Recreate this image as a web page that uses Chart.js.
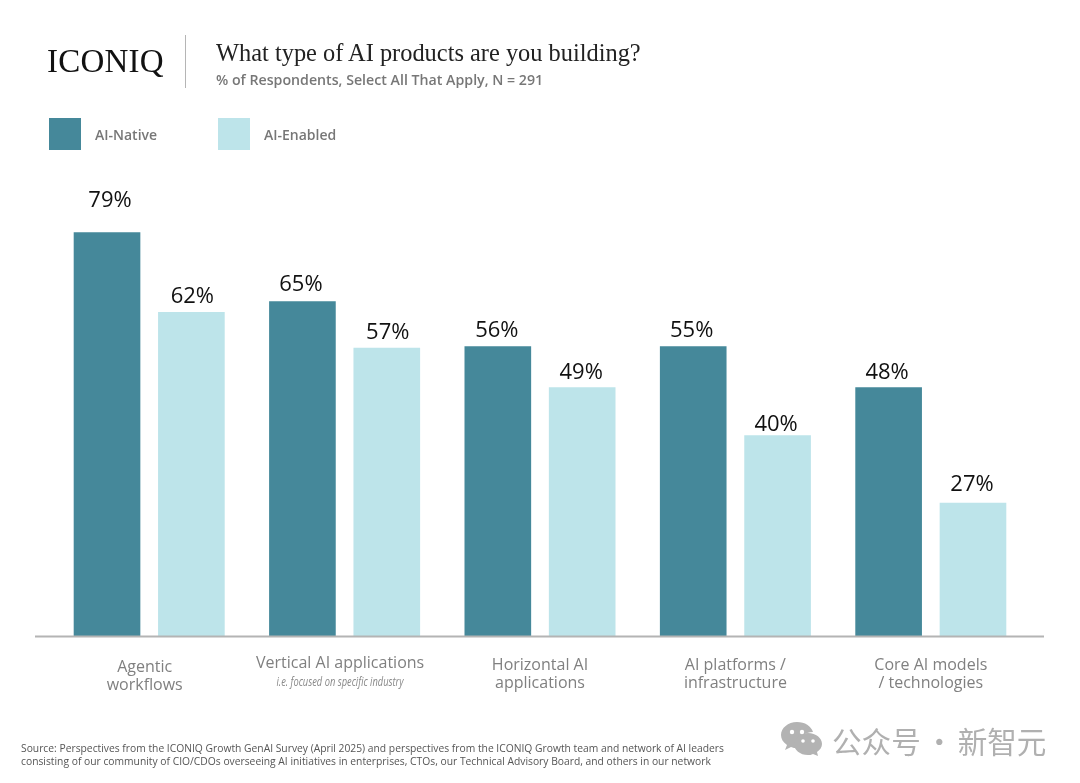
<!DOCTYPE html>
<html><head><meta charset="utf-8">
<script src="https://cdn.jsdelivr.net/npm/chart.js@4"></script>
<style>
html,body{margin:0;padding:0;background:#fff;width:1080px;height:783px;overflow:hidden}
#wrap{position:relative;width:1080px;height:783px}
canvas{position:absolute;left:0;top:0}
.t{position:absolute;white-space:nowrap;font-family:"Open Sans",sans-serif;line-height:1}
.sw{position:absolute;top:118px;width:32px;height:32px}
</style></head><body>
<div id="wrap">
<canvas id="c" width="1080" height="783"></canvas>
<div class="t" style="left:47px;top:43px;font:33px 'Liberation Serif',serif;letter-spacing:0.2px;color:#111">ICONIQ</div>
<div style="position:absolute;left:185px;top:35px;width:1px;height:53px;background:#b5b5b5"></div>
<div class="t" style="left:216px;top:39px;font:24.4px 'Liberation Serif',serif;color:#222">What type of AI products are you building?</div>
<div class="t" style="left:216px;top:73px;font-size:14.2px;font-weight:600;color:#777">% of Respondents, Select All That Apply, N = 291</div>
<div id="legend"></div>
<div class="t" style="left:340px;top:676px;font-size:12.4px;font-style:italic;color:#888;transform:translateX(-50%) scaleX(.75)">i.e. focused on specific industry</div>
<div class="t" style="left:21px;top:742px;font-size:10.3px;line-height:13px;color:#555">Source: Perspectives from the ICONIQ Growth GenAI Survey (April 2025) and perspectives from the ICONIQ Growth team and network of AI leaders<br>consisting of our community of CIO/CDOs overseeing AI initiatives in enterprises, CTOs, our Technical Advisory Board, and others in our network</div>
<svg style="position:absolute;left:781px;top:722px" width="42" height="34" viewBox="0 0 42 34">
<path d="M16 0C7 0 0 6 0 13c0 4 2 7 6 10l-2 5 6-3c2 1 4 1 6 1 1 0 1 0 2 0-1-1-1-3-1-4 0-7 7-12 15-12C30 4 24 0 16 0z" fill="#b3b3b3"/>
<path d="M27 11c-8 0-14 5-14 11s6 11 14 11c2 0 3 0 5-1l5 2-1-4c3-2 5-5 5-8 0-6-6-11-14-11z" fill="#b3b3b3"/>
<circle cx="11" cy="10" r="2.2" fill="#fff"/><circle cx="21" cy="10" r="2.2" fill="#fff"/>
<circle cx="22" cy="19" r="1.8" fill="#fff"/><circle cx="32" cy="19" r="1.8" fill="#fff"/>
</svg>
<div class="t" style="left:832px;top:719px;font:29.6px 'Noto Sans CJK SC',sans-serif;word-spacing:-3px;color:#b0b0b0">公众号 · 新智元</div>
</div>
<script>
// Chart data
const categories = [["Agentic","workflows"],["Vertical AI applications",""],["Horizontal AI","applications"],["AI platforms /","infrastructure"],["Core AI models","/ technologies"]];
const seriesNames = ["AI-Native","AI-Enabled"];
// bar heights as measured in the reference, in percent
const nativeHeights = [79,65.5,56.7,56.7,48.7];
const enabledHeights = [63.4,56.4,48.7,39.3,26.1];
// percentages as printed above the bars
const nativeLabels = ["79%","65%","56%","55%","48%"];
const enabledLabels = ["62%","57%","49%","40%","27%"];
// layout and style, separate from the data
const colors = ["#45889A","#BDE4EA"];
const legendX = [49,218];
const legendTextX = [95,264];
const nativeLift = [32,17,16,16,14];
const enabledLift = [15,15,14,10,17.5];
const nativeNudge = [3,-1.5,-1,-1.5,-1.5];
const enabledNudge = [1,1,-1,-1.5,-1];
const tickShiftY = [2,-2,0,0,0];
const tickShiftX = [-4.5,-4.5,0,0,0];

seriesNames.forEach((n,i)=>{
  const l=document.getElementById('legend');
  const s=document.createElement('div');s.className='sw';s.style.left=legendX[i]+'px';s.style.background=colors[i];l.appendChild(s);
  const t=document.createElement('div');t.className='t';t.textContent=n;
  t.style.cssText=`left:${legendTextX[i]}px;top:128px;font-size:14px;font-weight:600;color:#777`;l.appendChild(t);
});

const decor={id:'decor',
  beforeDraw(ch){
    ch.scales.x.getLabelItems().forEach((it,i)=>{
      if(!it._s){it._s=1;it.options.translation[0]+=tickShiftX[i];it.options.translation[1]+=tickShiftY[i];}
    });
  },
  afterDatasetsDraw(ch){
    const c=ch.ctx,y=ch.scales.y.getPixelForValue(0);
    c.save();
    c.strokeStyle='#b4b4b4';c.lineWidth=2;c.beginPath();c.moveTo(35,y+.5);c.lineTo(1044,y+.5);c.stroke();
    c.fillStyle='#111';c.font='22px "Open Sans"';c.textAlign='center';c.textBaseline='middle';
    [[nativeLabels,nativeLift,nativeNudge],[enabledLabels,enabledLift,enabledNudge]].forEach(([labs,lift,nudge],d)=>{
      ch.getDatasetMeta(d).data.forEach((b,i)=>c.fillText(labs[i],b.x+nudge[i],b.y-lift[i]));
    });
    c.restore();
  }};

new Chart(document.getElementById('c'),{
  type:'bar',
  data:{labels:categories,datasets:[
    {label:seriesNames[0],data:nativeHeights,backgroundColor:colors[0],categoryPercentage:.8635,barPercentage:.79},
    {label:seriesNames[1],data:enabledHeights,backgroundColor:colors[1],categoryPercentage:.8635,barPercentage:.79}
  ]},
  options:{responsive:false,animation:false,devicePixelRatio:1,
    layout:{padding:{top:125,left:51.5,right:51.5,bottom:0}},
    plugins:{legend:{display:false},tooltip:{enabled:false},title:{display:false}},
    scales:{
      x:{grid:{display:false},border:{display:false},
        afterFit(s){s.height=147;},
        ticks:{color:'#808080',padding:12,maxRotation:0,autoSkip:false,font:{family:'"Open Sans"',size:16,lineHeight:1.15}}},
      y:{display:false,min:0,max:100}
    }},
  plugins:[decor]
});
</script>
</body></html>
